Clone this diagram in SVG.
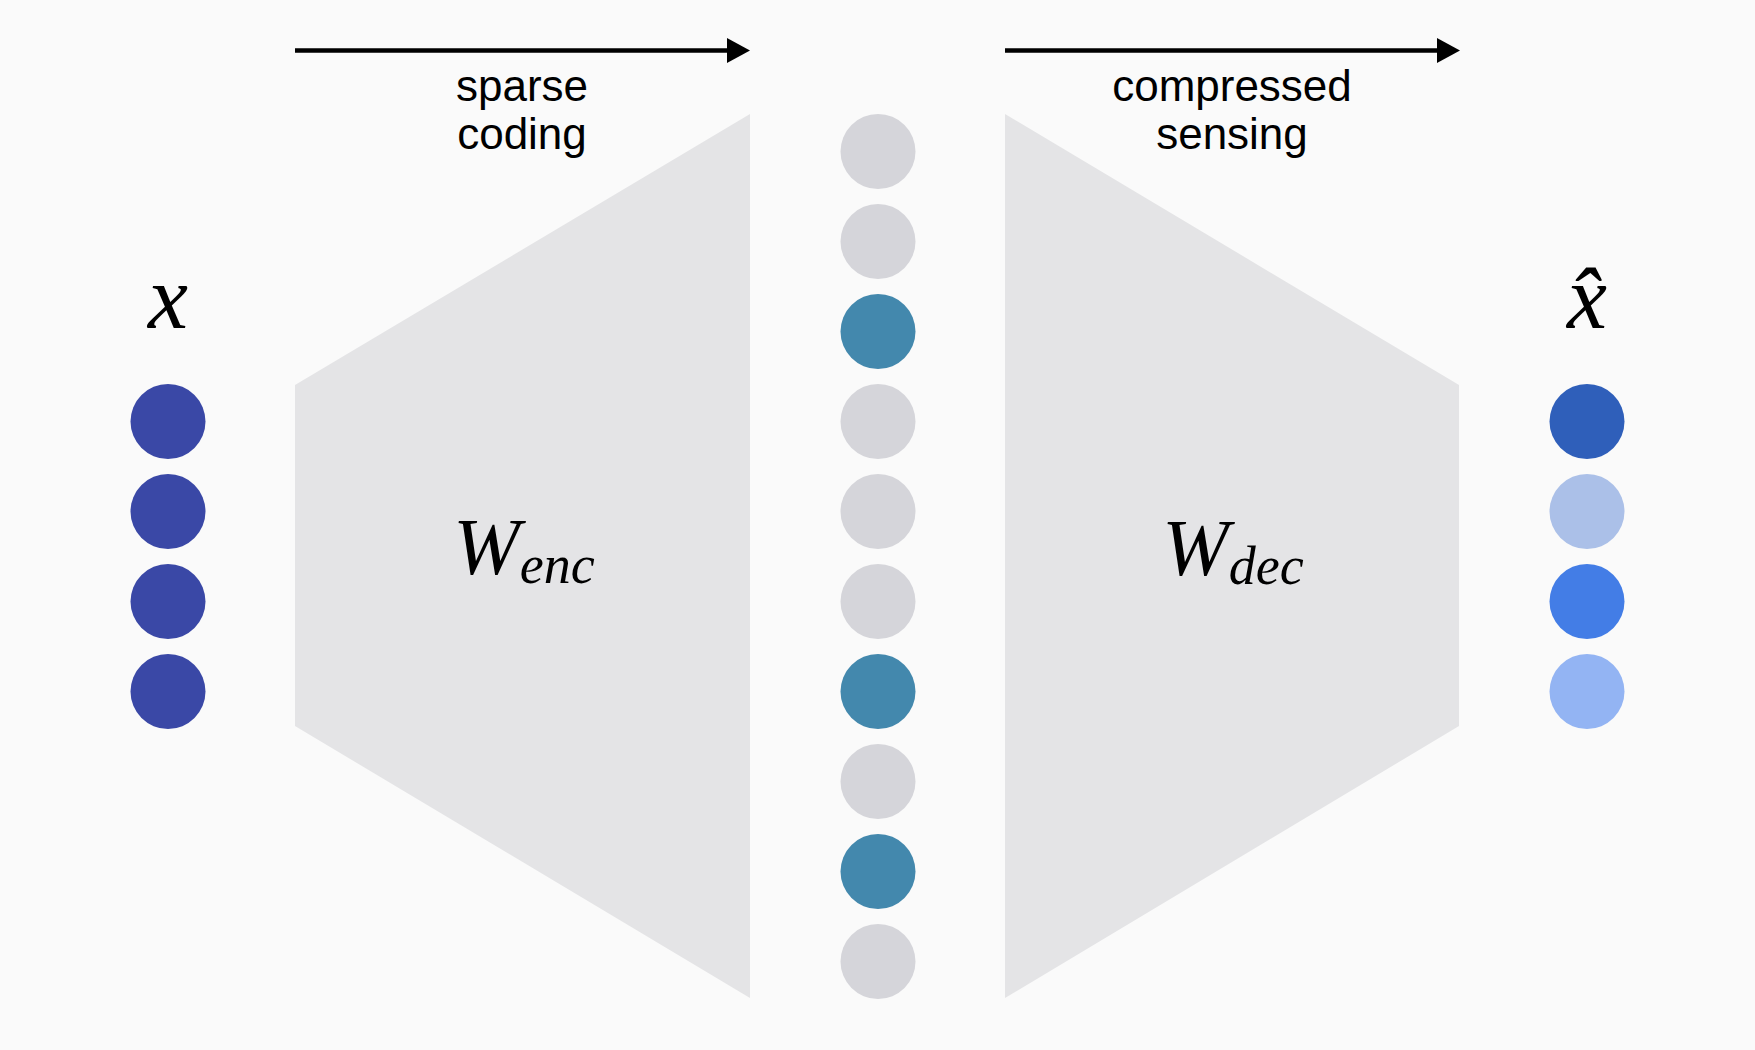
<svg xmlns="http://www.w3.org/2000/svg" width="1755" height="1050" viewBox="0 0 1755 1050">
<style>
.lbl{font-family:"Liberation Sans",Arial,sans-serif;font-size:44px;fill:#000;text-anchor:middle}
.math{font-family:"Liberation Serif","Times New Roman",serif;font-style:italic;fill:#000}
.trap{fill:#e4e4e6}
.in{fill:#3a48a6}
.off{fill:#d5d5da}
.on{fill:#4388ad}
</style>
<rect width="1755" height="1050" fill="#fafafa"/>
<g id="encoder">
<polygon class="trap" points="295,385 750,114 750,998 295,726"/>
<text class="math" x="524" y="574" text-anchor="middle"><tspan font-size="80">W</tspan><tspan font-size="54" dy="9">enc</tspan></text>
</g>
<g id="decoder">
<polygon class="trap" points="1005,114 1459,385 1459,726 1005,998"/>
<text class="math" x="1233" y="575" text-anchor="middle"><tspan font-size="80">W</tspan><tspan font-size="54" dy="9">dec</tspan></text>
</g>
<g id="connectors">
<line x1="295" y1="50.5" x2="730" y2="50.5" stroke="#000" stroke-width="4.5"/>
<polygon points="727,38 750,50.5 727,63" fill="#000"/>
<line x1="1005" y1="50.5" x2="1440" y2="50.5" stroke="#000" stroke-width="4.5"/>
<polygon points="1437,38 1460,50.5 1437,63" fill="#000"/>
</g>
<g id="label-sparse-coding">
<text class="lbl" x="522" y="101">sparse</text>
<text class="lbl" x="522" y="149">coding</text>
</g>
<g id="label-compressed-sensing">
<text class="lbl" x="1232" y="101">compressed</text>
<text class="lbl" x="1232" y="149">sensing</text>
</g>
<g id="input">
<text class="math" x="168" y="328" font-size="90" text-anchor="middle">x</text>
<circle class="in" cx="168" cy="421.5" r="37.5"/>
<circle class="in" cx="168" cy="511.5" r="37.5"/>
<circle class="in" cx="168" cy="601.5" r="37.5"/>
<circle class="in" cx="168" cy="691.5" r="37.5"/>
</g>
<g id="code">
<circle class="off" cx="878" cy="151.5" r="37.5"/>
<circle class="off" cx="878" cy="241.5" r="37.5"/>
<circle class="on" cx="878" cy="331.5" r="37.5"/>
<circle class="off" cx="878" cy="421.5" r="37.5"/>
<circle class="off" cx="878" cy="511.5" r="37.5"/>
<circle class="off" cx="878" cy="601.5" r="37.5"/>
<circle class="on" cx="878" cy="691.5" r="37.5"/>
<circle class="off" cx="878" cy="781.5" r="37.5"/>
<circle class="on" cx="878" cy="871.5" r="37.5"/>
<circle class="off" cx="878" cy="961.5" r="37.5"/>
</g>
<g id="output">
<text class="math" x="1587" y="328" font-size="90" text-anchor="middle">x̂</text>
<circle cx="1587" cy="421.5" r="37.5" fill="#2f5fba"/>
<circle cx="1587" cy="511.5" r="37.5" fill="#abc0e8"/>
<circle cx="1587" cy="601.5" r="37.5" fill="#437de6"/>
<circle cx="1587" cy="691.5" r="37.5" fill="#93b4f3"/>
</g>
</svg>
